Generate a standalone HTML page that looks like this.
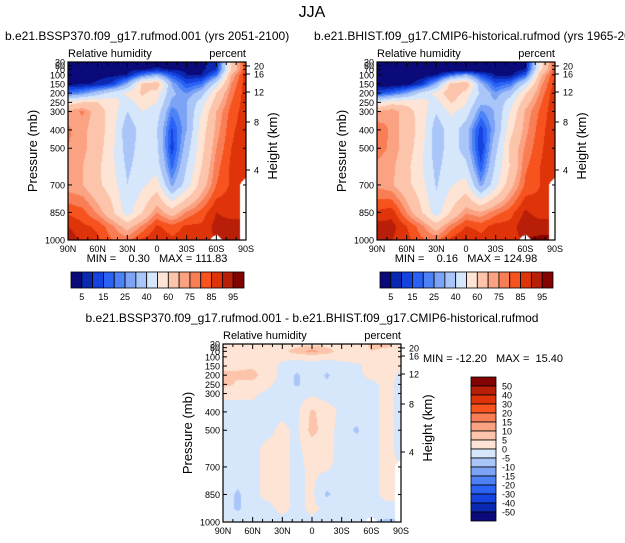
<!DOCTYPE html>
<html><head><meta charset="utf-8">
<style>
html,body{margin:0;padding:0;background:#fff;}
#root{position:relative;width:625px;height:543px;overflow:hidden;font-family:"Liberation Sans",sans-serif;}
canvas{position:absolute;}
svg{position:absolute;left:0;top:0;}
text{white-space:pre;}
</style></head>
<body>
<div id="root">
<canvas id="c1" width="178" height="178" style="left:68px;top:62px"></canvas>
<canvas id="c2" width="178" height="178" style="left:377px;top:62px"></canvas>
<canvas id="c3" width="178" height="178" style="left:223px;top:344px"></canvas>
<svg id="s" width="625" height="543"></svg>
</div>
<script>
const lats = [90,75,60,45,30,15,0,-15,-30,-45,-60,-75,-90];
const levels = [30,70,100,150,200,250,300,400,500,600,700,850,925,1000];
const futRH = [
[2,2,2,2,2,2,3,3,3,3,8,60,85],
[2,2,2,2,3,4,6,4,3,3,10,60,85],
[3,3,3,3,5,20,30,15,5,5,20,70,88],
[4,4,6,12,30,62,68,30,15,20,45,75,88],
[20,25,35,45,52,62,55,32,25,35,60,78,88],
[55,60,60,55,45,55,50,28,30,45,65,80,88],
[72,76,65,55,40,50,45,22,30,50,70,82,88],
[76,72,65,55,32,45,40,14,30,55,72,84,88],
[75,72,65,52,35,45,42,12,35,57,75,85,88],
[72,70,62,52,38,45,45,18,40,60,78,86,88],
[72,70,62,55,40,48,55,28,45,65,80,86,null],
[84,82,74,62,45,60,75,65,76,82,90,88,null],
[90,86,84,76,66,76,86,82,86,86,92,92,null],
[94,88,86,80,78,86,90,86,88,88,null,90,null]];
const diffRH = [
[2,2,2,2,2,2,3,2,2,2,6,6,4],
[2,2,2,2,3,8,12,8,2,2,5,4,2],
[2,2,2,2,1,1,1,1,1,2,4,3,2],
[3,4,4,2,-1,-2,-1,-2,-1,-1,2,2,1],
[7,6,7,2,-1,-6,-1,-6,-1,-1,1,2,-1],
[7,4,3,0.5,-1,-6,-1,-4,-1,-1,-1,1,-1],
[1,1,0.5,-0.5,-1,-2,-1,-2,-1,-1,-1,1,-1],
[-2,-2,-1,-1,-1,-1,6,2,-1,-2,-1,1,-1],
[-2,-2,-1,-1,1,-1,7,2,-2,-6,-1,1,-1],
[-2,-2,-1,1,1,-1,2,2,-2,-1,-1,1,-1],
[-2,-1,-1,1,1,-1,1,1,-2,-2,-1,1,null],
[-2,-6,-1,1,1,-1,1,-6,-2,-1,-1,1,null],
[-2,-6,-1,-1,1,-1,1,-1,-1,-1,-2,-1,null],
[1,-2,-1,-1,-1,-1,-1,-1,-1,-1,null,-6,null]];
const histRH = futRH.map((r,i)=>r.map((v,j)=>(v==null||diffRH[i][j]==null)?null:v-diffRH[i][j]));
const rhBounds = [5,10,15,20,25,30,40,50,60,70,75,80,85,90,95];
const rhLabels = ["5","15","25","40","60","75","85","95"];
const diffBounds = [-50,-40,-30,-20,-15,-10,-5,0,5,10,15,20,30,40,50];
const diffLabels = ["50","40","30","20","15","10","5","0","-5","-10","-15","-20","-30","-40","-50"];
const palette = ["#0a0a7a","#0b28b0","#1443e0","#2a62f5","#4c82f5","#7da3f6","#aac6f9","#d6e6fb","#fde4d4","#fcc4aa","#fba282","#f97d55","#f6531f","#df330a","#b81e08","#830202"];
const presTicks = [30,50,70,100,150,200,250,300,400,500,700,850,1000];
const presLabels = ["30","50","70","100","150","200","250","300","400","500","700","850","1000"];
const kmTicks = [20,16,12,8,4];
const kmOffsets = [4,12,30,60,108];
const latTicks = [90,60,30,0,-30,-60,-90];
const latLabels = ["90N","60N","30N","0","30S","60S","90S"];

const W=178,H=178;
const xOf = lat => (90-lat)/180*W;
const yOf = p => (p-30)/970*H;

function colorFor(v,b){let k=0;while(k<b.length&&v>=b[k])k++;return palette[k];}
function sample(g,lat,p){
  let fi=(90-lat)/15;let i0=Math.min(Math.floor(fi),11);let tx=fi-i0;
  let j0=0;while(j0<levels.length-2&&p>levels[j0+1])j0++;
  let ty=(p-levels[j0])/(levels[j0+1]-levels[j0]);
  const a=g[j0][i0],b=g[j0][i0+1],c=g[j0+1][i0],d=g[j0+1][i0+1];
  const near=[[a,(1-tx)*(1-ty)],[b,tx*(1-ty)],[c,(1-tx)*ty],[d,tx*ty]];
  let nul=0;near.forEach(n=>{if(n[0]==null)nul+=n[1];});
  if(nul>0.6)return null;
  let s=0,w=0;near.forEach(n=>{if(n[0]!=null){s+=n[0]*n[1];w+=n[1];}});
  return s/w;
}
function draw(id,g,b){
  const ctx=document.getElementById(id).getContext('2d');
  for(let py=0;py<H;py++)for(let px=0;px<W;px++){
    const lat=90-(px+0.5)/W*180,p=30+(py+0.5)/H*970;
    const v=sample(g,lat,p);
    ctx.fillStyle=v==null?"#fff":colorFor(v,b);
    ctx.fillRect(px,py,1,1);
  }
}
draw('c1',futRH,rhBounds);
draw('c2',histRH,rhBounds);
draw('c3',diffRH,diffBounds);

const svg=document.getElementById('s');const NS="http://www.w3.org/2000/svg";
function el(t,a,txt){const e=document.createElementNS(NS,t);for(const k in a)e.setAttribute(k,a[k]);if(txt!=null)e.textContent=txt;svg.appendChild(e);return e;}
function txt(x,y,s,size,anchor,name){const e=el('text',{x:x,y:y,'font-size':size,'text-anchor':anchor||'start',fill:'#000','font-family':'Liberation Sans, sans-serif'},s);return e;}

function axes(ox,oy,pre){
  const f=el('rect',{x:ox,y:oy,width:W,height:H,fill:'none',stroke:'#000','stroke-width':1.2});
  
  presTicks.forEach((p,i)=>{const y=oy+yOf(p);
    el('line',{x1:ox,x2:ox+4,y1:y,y2:y,stroke:'#000'});
    el('line',{x1:ox+W,x2:ox+W-3,y1:y,y2:y,stroke:'#000'});
    txt(ox-3,y+3.5,presLabels[i],9,'end',pre+'-pressure-tick-label');});
  kmTicks.forEach((k,i)=>{const y=oy+kmOffsets[i];
    el('line',{x1:ox+W,x2:ox+W+4,y1:y,y2:y,stroke:'#000'});
    txt(ox+W+8,y+3.5,String(k),9,'start',pre+'-height-tick-label');});
  for(let l=90;l>=-90;l-=10){const x=ox+xOf(l);const big=l%30==0;
    el('line',{x1:x,x2:x,y1:oy+H,y2:oy+H-(big?5:3),stroke:'#000'});
    el('line',{x1:x,x2:x,y1:oy,y2:oy+(big?5:3),stroke:'#000'});}
  latTicks.forEach((l,i)=>txt(ox+xOf(l),oy+H+12,latLabels[i],9,'middle',pre+'-lat-tick-label'));
  const yl=txt(0,0,'Pressure (mb)',13,'middle',pre+'-y-axis-title');yl.setAttribute('transform',`translate(${ox-31},${oy+H/2}) rotate(-90)`);
  const yr=txt(0,0,'Height (km)',13,'middle',pre+'-height-axis-title');yr.setAttribute('transform',`translate(${ox+W+31},${oy+H/2-5}) rotate(-90)`);
  txt(ox,oy-5,'Relative humidity',11,'start',pre+'-variable-label');
  txt(ox+W,oy-5,'percent',11,'end',pre+'-units-label');
}
axes(68,62,'ssp370');axes(377,62,'hist');axes(223,344,'diff');

txt(312,17,'JJA',16,'middle','figure-title');
txt(5,40,'b.e21.BSSP370.f09_g17.rufmod.001 (yrs 2051-2100)',12,'start','ssp370-title');
txt(314,40,'b.e21.BHIST.f09_g17.CMIP6-historical.rufmod (yrs 1965-2014)',12,'start','hist-title');
txt(312,322,'b.e21.BSSP370.f09_g17.rufmod.001 - b.e21.BHIST.f09_g17.CMIP6-historical.rufmod',12,'middle','diff-title');
txt(157,262,'MIN =    0.30   MAX = 111.83',11,'middle','ssp370-minmax');
txt(466,262,'MIN =    0.16   MAX = 124.98',11,'middle','hist-minmax');
txt(423,362,'MIN = -12.20   MAX =  15.40',11,'start','diff-minmax');

function hbar(x0,pre){const bw=(244-71)/16;
  for(let k=0;k<16;k++){const r=el('rect',{x:x0+k*bw,y:272,width:bw,height:16,fill:palette[k],stroke:'#000','stroke-width':0.8});
    }
  rhLabels.forEach((s,i)=>txt(x0+(2*i+1)*bw,300,s,9,'middle',pre+'-colorbar-label'));}
hbar(71,'ssp370');hbar(380,'hist');
(function(){const bh=144/16;
  for(let k=0;k<16;k++){const r=el('rect',{x:471,y:377+k*bh,width:25,height:bh,fill:palette[15-k],stroke:'#000','stroke-width':0.8});
    }
  diffLabels.forEach((s,i)=>txt(502,377+(i+1)*bh+3.5,s,9,'start','diff-colorbar-label'));})();
</script>
</body></html>
